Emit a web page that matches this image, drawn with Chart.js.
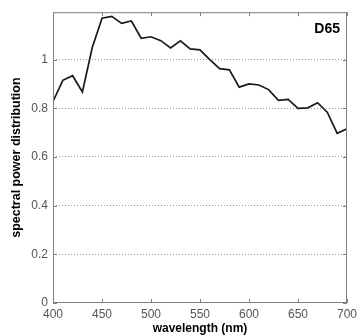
<!DOCTYPE html>
<html>
<head>
<meta charset="utf-8">
<script src="https://cdn.jsdelivr.net/npm/chart.js@4.4.1/dist/chart.umd.min.js"></script>
<style>
  html, body { margin: 0; padding: 0; background: #fff; }
  #wrap { width: 361px; height: 336px; position: relative; }
</style>
</head>
<body>
<div id="wrap"><canvas id="c" width="361" height="336"></canvas></div>
<script>
// CIE D65 relative spectral power, 400-700 nm in 10 nm steps
const wavelengths = [400, 410, 420, 430, 440, 450, 460, 470, 480, 490, 500,
                     510, 520, 530, 540, 550, 560, 570, 580, 590, 600,
                     610, 620, 630, 640, 650, 660, 670, 680, 690, 700];
const spd = [0.828, 0.915, 0.934, 0.867, 1.049, 1.170, 1.178, 1.149, 1.159, 1.088, 1.094,
             1.078, 1.048, 1.077, 1.044, 1.040, 1.000, 0.963, 0.958, 0.887, 0.900,
             0.896, 0.877, 0.833, 0.837, 0.800, 0.802, 0.823, 0.783, 0.697, 0.716];
const xTicks = [400, 450, 500, 550, 600, 650, 700];
const yTicks = [0, 0.2, 0.4, 0.6, 0.8, 1];
const seriesLabel = 'D65';

const points = wavelengths.map((w, i) => ({ x: w, y: spd[i] }));

const FONT = '"Liberation Sans", Arial, sans-serif';

// Box around the plot area, inward tick marks and the corner label
const frame = {
  id: 'frame',
  afterDatasetsDraw(chart) {
    const { ctx, chartArea: a, scales } = chart;
    ctx.save();
    ctx.strokeStyle = '#808080';
    ctx.lineWidth = 1;
    ctx.strokeRect(a.left + 0.5, a.top + 0.5, a.right - a.left - 1, a.bottom - a.top - 1);
    ctx.beginPath();
    xTicks.forEach(v => {
      const px = Math.round(scales.x.getPixelForValue(v)) + 0.5;
      ctx.moveTo(px, a.bottom); ctx.lineTo(px, a.bottom - 4);
      ctx.moveTo(px, a.top); ctx.lineTo(px, a.top + 4);
    });
    yTicks.forEach(v => {
      const py = Math.round(scales.y.getPixelForValue(v)) + 0.5;
      ctx.moveTo(a.left, py); ctx.lineTo(a.left + 4, py);
      ctx.moveTo(a.right, py); ctx.lineTo(a.right - 4, py);
    });
    ctx.stroke();
    ctx.fillStyle = '#000';
    ctx.font = 'bold 14px ' + FONT;
    ctx.textAlign = 'right';
    ctx.textBaseline = 'alphabetic';
    ctx.fillText(seriesLabel, a.right - 7, a.top + 21);
    ctx.restore();
  }
};

new Chart(document.getElementById('c'), {
  type: 'line',
  data: {
    datasets: [{
      label: seriesLabel,
      data: points,
      borderColor: '#1a1a1a',
      borderWidth: 1.7,
      pointRadius: 0,
      tension: 0,
      fill: false
    }]
  },
  options: {
    responsive: false,
    animation: false,
    layout: { padding: { top: 7, right: 12, left: 0, bottom: 0 } },
    plugins: { legend: { display: false }, tooltip: { enabled: false } },
    scales: {
      x: {
        type: 'linear',
        min: 400, max: 700,
        afterFit(s) { s.height = 33; },
        afterBuildTicks(s) { s.ticks = xTicks.map(v => ({ value: v })); },
        grid: { display: false, drawTicks: false },
        border: { display: false },
        ticks: {
          color: '#555',
          padding: 4,
          maxRotation: 0,
          font: { family: FONT, size: 12 }
        },
        title: {
          display: true,
          text: 'wavelength (nm)',
          color: '#000',
          padding: { top: -3, bottom: 0 },
          font: { family: FONT, size: 12, weight: 'bold' }
        }
      },
      y: {
        type: 'linear',
        min: 0, max: 1.195,
        afterFit(s) { s.width = 53; },
        afterBuildTicks(s) { s.ticks = yTicks.map(v => ({ value: v })); },
        grid: {
          color: ctx => (ctx.tick && ctx.tick.value > 0 ? '#9a9a9a' : 'rgba(0,0,0,0)'),
          lineWidth: 1,
          drawTicks: false
        },
        border: { display: false, dash: [1, 2] },
        ticks: {
          color: '#555',
          padding: 5,
          font: { family: FONT, size: 12 },
          callback: v => String(+v.toFixed(1))
        },
        title: {
          display: true,
          text: 'spectral power distribution',
          color: '#000',
          padding: { top: 9, bottom: 0 },
          font: { family: FONT, size: 12.5, weight: 'bold' }
        }
      }
    }
  },
  plugins: [frame]
});
</script>
</body>
</html>
